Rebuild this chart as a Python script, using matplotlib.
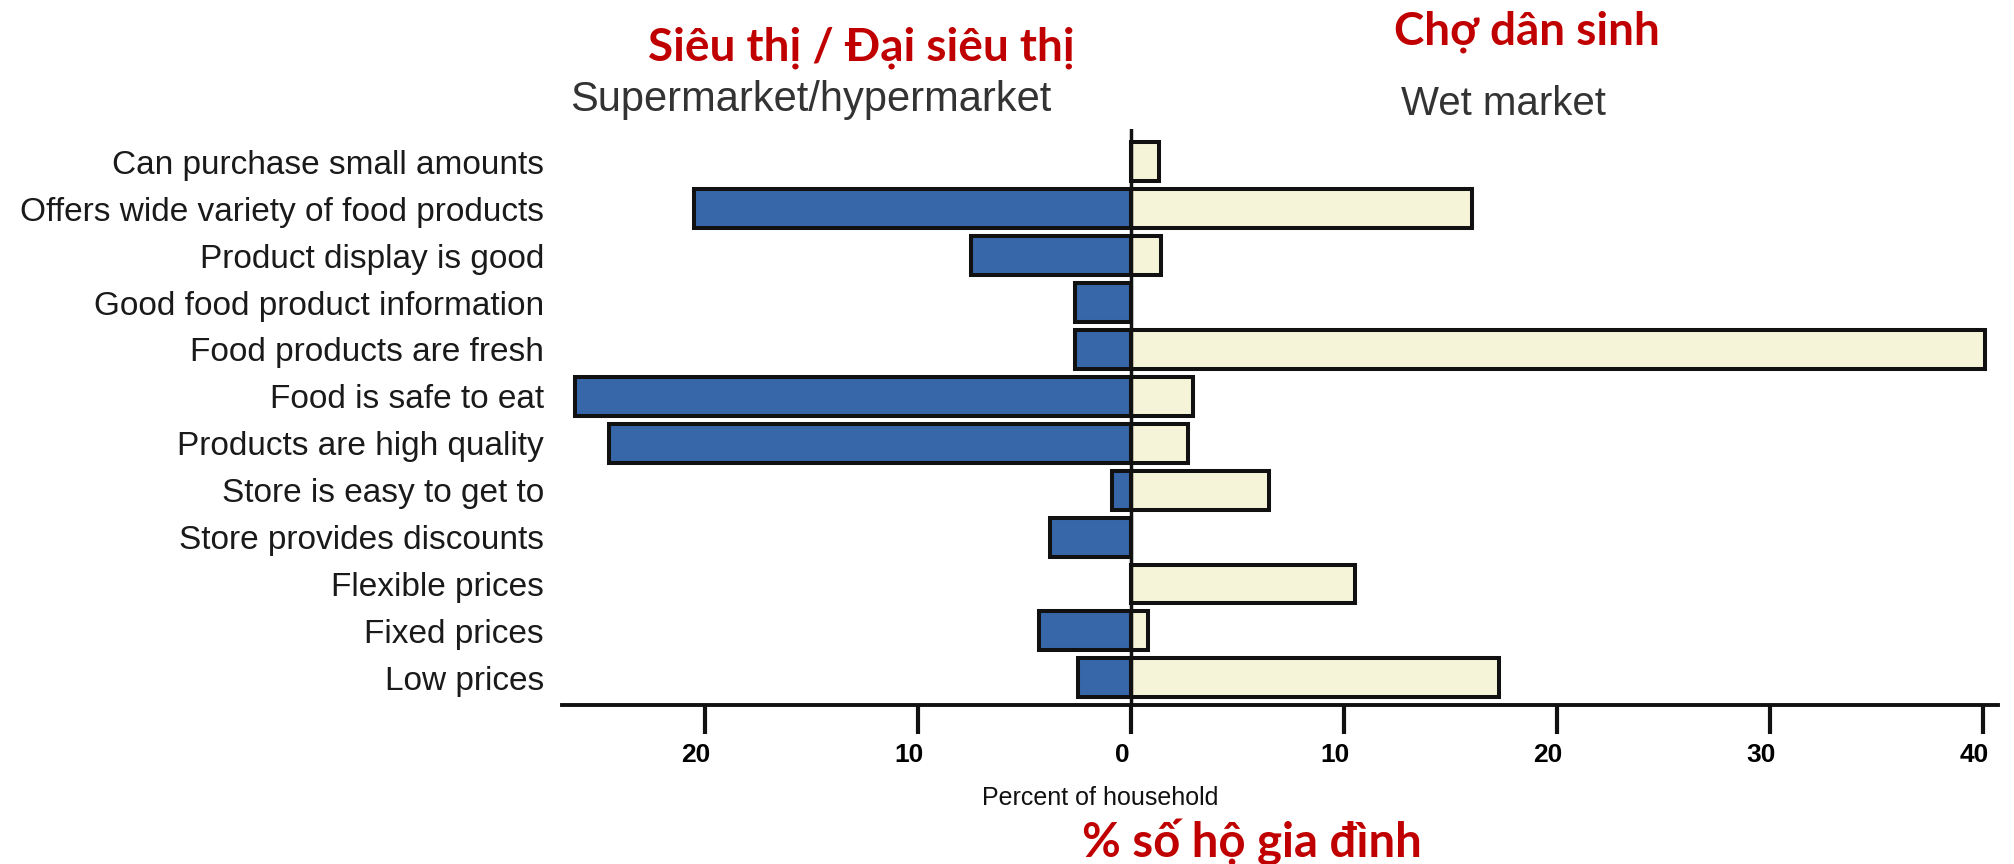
import matplotlib
matplotlib.use("Agg")
from matplotlib import pyplot as plt
from matplotlib.transforms import ScaledTranslation

categories = [
    "Can purchase small amounts",
    "Offers wide variety of food products",
    "Product display is good",
    "Good food product information",
    "Food products are fresh",
    "Food is safe to eat",
    "Products are high quality",
    "Store is easy to get to",
    "Store provides discounts",
    "Flexible prices",
    "Fixed prices",
    "Low prices",
]
supermarket = [0, 20.5, 7.5, 2.6, 2.6, 26.1, 24.5, 0.9, 3.8, 0, 4.3, 2.5]
wet_market = [1.3, 16.0, 1.4, 0, 40.1, 2.9, 2.7, 6.5, 0, 10.5, 0.8, 17.3]
tick_values = [-20, -10, 0, 10, 20, 30, 40]
tick_labels = ["20", "10", "0", "10", "20", "30", "40"]

W, H = 2015, 864
fig = plt.figure(figsize=(W / 100, H / 100), dpi=100)
ax = fig.add_axes([562 / W, 1 - 705 / H, (1998 - 562) / W, (705 - 129) / H])

ypos = list(range(len(categories)))[::-1]
ax.barh(ypos, [-v for v in supermarket], height=0.83, color="#3767a8",
        edgecolor="#111111", linewidth=2.9)
ax.barh(ypos, wet_market, height=0.83, color="#f5f3d8",
        edgecolor="#111111", linewidth=2.9)
ax.axvline(0, color="#111111", linewidth=2.5)

ax.set_xlim(-26.7, 40.7)
ax.set_ylim(-0.58, 11.7)
for s in ["left", "right", "top"]:
    ax.spines[s].set_visible(False)
ax.spines["bottom"].set_linewidth(2.8)
ax.spines["bottom"].set_color("#111111")

ax.set_xticks(tick_values)
ax.set_xticklabels(tick_labels, fontsize=19, weight="bold",
                   family=["Liberation Sans Narrow", "Liberation Sans"])
ax.tick_params(axis="x", direction="out", length=21, width=3, pad=6, color="#111111")
shift = ScaledTranslation(-9 / 100, 0, fig.dpi_scale_trans)
for lab in ax.get_xticklabels():
    lab.set_transform(lab.get_transform() + shift)
ax.set_yticks(ypos)
ax.set_yticklabels(categories, fontsize=24, family="Liberation Sans", color="#1a1a1a")
ax.tick_params(axis="y", length=0, pad=13)


def ftext(x, y, s, **kw):
    fig.text(x / W, 1 - y / H, s, ha="center", va="center", **kw)


red = "#c00000"
ftext(861, 48, "Siêu thị / Đại siêu thị", fontsize=33, family="Lato", weight="bold", color=red)
ftext(1527, 32, "Chợ dân sinh", fontsize=33, family="Lato", weight="bold", color=red)
ftext(811, 100, "Supermarket/hypermarket", fontsize=30, family="Liberation Sans", color="#333333")
ftext(1503, 104, "Wet market", fontsize=29, family="Liberation Sans", color="#333333")
ftext(1100, 798, "Percent of household", fontsize=18, family="Liberation Sans", color="#111111")
ftext(1252, 842, "% số hộ gia đình", fontsize=34, family="Lato", weight="bold", color=red)

fig.savefig("out.png", dpi=100)
